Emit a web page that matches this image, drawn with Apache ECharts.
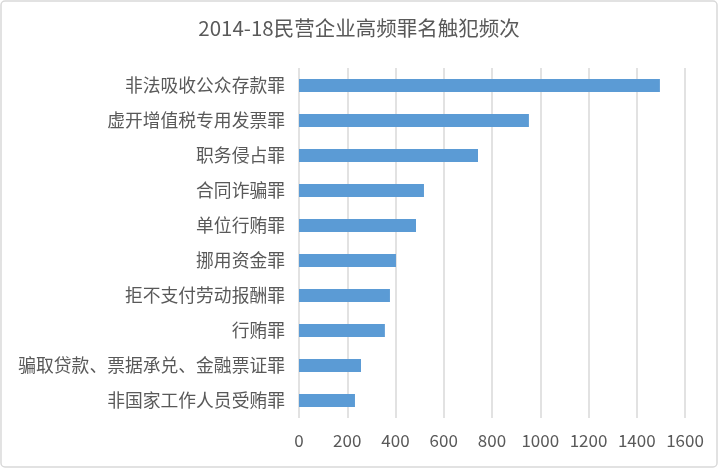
<!DOCTYPE html>
<html>
<head>
<meta charset="utf-8">
<script src="https://cdn.jsdelivr.net/npm/echarts@6/dist/echarts.min.js"></script>
<style>
html,body{margin:0;padding:0;background:#fff;}
#main{width:718px;height:468px;}
</style>
</head>
<body>
<div id="main"></div>
<script>
const titleText = '2014-18民营企业高频罪名触犯频次';
const categories = ['非法吸收公众存款罪','虚开增值税专用发票罪','职务侵占罪','合同诈骗罪','单位行贿罪','挪用资金罪','拒不支付劳动报酬罪','行贿罪','骗取贷款、票据承兑、金融票证罪','非国家工作人员受贿罪'];
const values = [1496, 953, 742, 518, 485, 402, 377, 356, 257, 232];
const xTicks = [0, 200, 400, 600, 800, 1000, 1200, 1400, 1600];

const font = '"Noto Sans CJK SC", "Noto Sans", sans-serif';
const chart = echarts.init(document.getElementById('main'), null, {renderer: 'canvas'});
chart.setOption({
  animation: false,
  backgroundColor: '#fff',
  title: {
    text: titleText,
    left: 'center',
    top: 13,
    textStyle: {fontFamily: font, fontSize: 20.5, fontWeight: 'normal', color: '#595959'}
  },
  graphic: [{
    type: 'rect',
    shape: {x: 1, y: 1, width: 716, height: 466, r: 4},
    style: {fill: 'none', stroke: '#d9d9d9', lineWidth: 1.5},
    silent: true, z: 100
  }],
  grid: {left: 299, right: 33, top: 68, bottom: 50, containLabel: false},
  xAxis: {
    type: 'value',
    min: xTicks[0],
    max: xTicks[xTicks.length - 1],
    interval: 200,
    axisLine: {show: false},
    axisTick: {show: false},
    splitLine: {show: true, lineStyle: {color: '#d9d9d9', width: 1.5}},
    axisLabel: {fontFamily: font, fontSize: 17, color: '#595959', margin: 14,
      formatter: function (v) { return String(v); }}
  },
  yAxis: {
    type: 'category',
    data: categories,
    inverse: true,
    axisLine: {show: false},
    axisTick: {show: false},
    axisLabel: {fontFamily: font, fontSize: 17.8, color: '#595959', margin: 14}
  },
  series: [{
    type: 'bar',
    data: values,
    barWidth: 13,
    itemStyle: {color: '#5b9bd5'}
  }]
});
</script>
</body>
</html>
